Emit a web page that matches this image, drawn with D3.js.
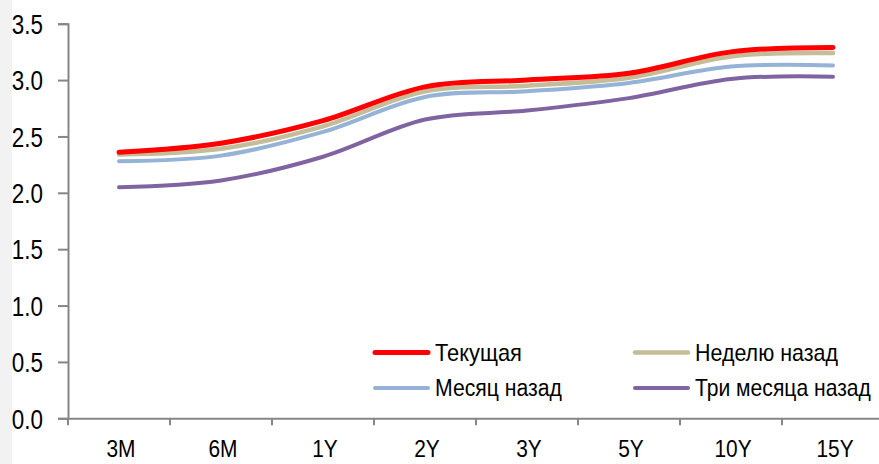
<!DOCTYPE html>
<html><head><meta charset="utf-8">
<script src="https://cdn.jsdelivr.net/npm/d3@7"></script>
<style>
html,body{margin:0;padding:0;background:#fff;}
svg{display:block;}
</style></head>
<body>
<svg id="chart" width="879" height="464"></svg>
<script>
const categories = ["3M","6M","1Y","2Y","3Y","5Y","10Y","15Y"];
const current    = [2.36, 2.44, 2.64, 2.94, 3.00, 3.06, 3.25, 3.29];
const weekAgo    = [2.34, 2.39, 2.59, 2.90, 2.95, 3.02, 3.21, 3.24];
const monthAgo   = [2.28, 2.33, 2.54, 2.85, 2.90, 2.975, 3.12, 3.13];
const threeMonth = [2.05, 2.11, 2.32, 2.65, 2.73, 2.84, 3.01, 3.03];
const yTicks = [0, 0.5, 1.0, 1.5, 2.0, 2.5, 3.0, 3.5];
const seriesNames = ["Текущая","Неделю назад","Месяц назад","Три месяца назад"];

const series = [
  {name: seriesNames[3], values: threeMonth, color: "#8064a2", w: 4},
  {name: seriesNames[2], values: monthAgo,   color: "#95b3d7", w: 4},
  {name: seriesNames[1], values: weekAgo,    color: "#c4bd97", w: 4.5},
  {name: seriesNames[0], values: current,    color: "#ff0000", w: 5}
];

const svg = d3.select("#chart");
const FONT = "'Liberation Sans',Arial,sans-serif";

svg.append("rect").attr("x",0).attr("y",0).attr("width",12).attr("height",464).attr("fill","#f2f2f2");

const x = d3.scaleBand().domain(categories).range([68, 884]);
const y = d3.scaleLinear().domain([0, 3.5]).range([418.3, 23.7]);

// Y axis
const ySX = 0.83;
const yAxis = d3.axisLeft(y).tickValues(yTicks).tickFormat(d3.format(".1f")).tickSize(10).tickPadding(15);
const gy = svg.append("g").attr("transform","translate(68,0)").call(yAxis);
gy.select(".domain").attr("stroke","#868686").attr("stroke-width",2);
gy.selectAll(".tick line").attr("stroke","#868686").attr("stroke-width",2);
gy.selectAll(".tick text").attr("font-family",FONT).attr("font-size",27).attr("fill","#000")
  .attr("dy","0.36em").attr("x", -25/ySX).attr("transform", `scale(${ySX},1)`);

// X axis
const xSX = 0.87;
const xAxis = d3.axisBottom(x).tickSize(0).tickPadding(22);
const gx = svg.append("g").attr("transform","translate(0,418.3)").call(xAxis);
gx.select(".domain").attr("stroke","#868686").attr("stroke-width",2);
gx.selectAll(".tick text").attr("font-family",FONT).attr("font-size",24).attr("fill","#000")
  .attr("x", 2/xSX).attr("transform", `scale(${xSX},1)`);
// category boundary ticks
const bounds = categories.map(c => x(c));
gx.selectAll(".btick").data(bounds).enter().append("line")
  .attr("x1", d => d).attr("x2", d => d).attr("y1", 0).attr("y2", 7)
  .attr("stroke","#868686").attr("stroke-width",2);

// Lines
const line = d3.line()
  .x((d,i) => x(categories[i]) + x.bandwidth()/2)
  .y(d => y(d))
  .curve(d3.curveCatmullRom.alpha(0));

series.forEach(s => {
  svg.append("path").datum(s.values)
    .attr("d", line).attr("fill","none")
    .attr("stroke", s.color).attr("stroke-width", s.w)
    .attr("stroke-linecap","round").attr("stroke-linejoin","round");
});

// Legend
const legendItems = [
  {name: seriesNames[0], color: "#ff0000", w: 5,   lx: 375, ly: 352.5, tw: 87},
  {name: seriesNames[1], color: "#c4bd97", w: 4.5, lx: 635, ly: 352.5, tw: 143},
  {name: seriesNames[2], color: "#95b3d7", w: 4,   lx: 375, ly: 388,   tw: 127},
  {name: seriesNames[3], color: "#8064a2", w: 4,   lx: 635, ly: 388,   tw: 176}
];
const lg = svg.append("g");
legendItems.forEach(it => {
  lg.append("line").attr("x1", it.lx).attr("x2", it.lx + 53).attr("y1", it.ly).attr("y2", it.ly)
    .attr("stroke", it.color).attr("stroke-width", it.w).attr("stroke-linecap","round");
  const t = lg.append("text").attr("x", 0).attr("y", 0).attr("dy","0.36em")
    .attr("font-family", FONT).attr("font-size", 23).attr("fill","#000")
    .text(it.name);
  const natural = t.node().getComputedTextLength();
  const sx = it.tw / natural;
  t.attr("transform", `translate(${it.lx + 60},${it.ly}) scale(${sx},1)`);
});
</script>
</body></html>
